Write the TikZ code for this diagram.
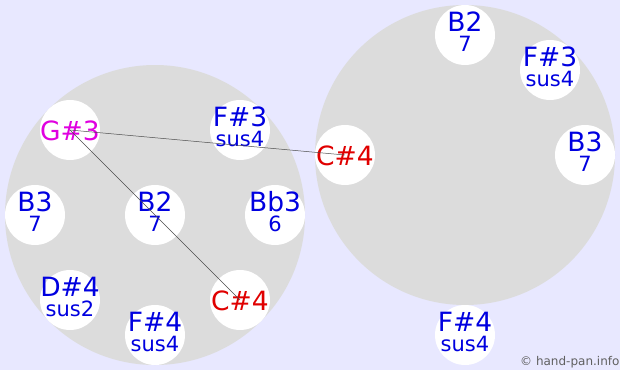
\documentclass[tikz,border=0pt]{standalone}
\usepackage{fontspec}
\setmainfont{DejaVu Sans}
\definecolor{bgc}{HTML}{E8E8FF}
\definecolor{panc}{HTML}{DCDCDC}
\definecolor{noteblue}{HTML}{0000E0}
\definecolor{notered}{HTML}{E00000}
\definecolor{notemag}{HTML}{E000E0}
\definecolor{copyc}{HTML}{606060}
\tikzset{
  pan/.style={fill=panc},
  field/.style={circle, fill=white, minimum size=60pt, inner sep=0pt},
  mainlbl/.style={anchor=base, inner sep=0pt, font=\fontsize{26.5}{26.5}\selectfont},
  sublbl/.style={anchor=base, inner sep=0pt, font=\fontsize{21}{21}\selectfont, text=noteblue},
  conn/.style={draw=black!70, line width=0.5pt},
}
\newcommand{\twonote}[5]{%
  \node[field] (#1) at (#2,#3) {};
  \node[mainlbl, text=noteblue] (#1m) at ([yshift=3.3pt]#1.center) {#4};
  \node[sublbl] (#1s) at ([yshift=-16pt]#1.center) {#5};
}
\newcommand{\onenote}[5]{%
  \node[field] (#1) at (#2,#3) {};
  \node[mainlbl, text=#5] (#1m) at ([yshift=-10pt]#1.center) {#4};
}
\begin{document}
\begin{tikzpicture}[x=1pt,y=-1pt]
\useasboundingbox (0,0) rectangle (620,370);
\fill[bgc] (0,0) rectangle (620,370);
\fill[pan] (155,215) circle (150);
\fill[pan] (465,155) circle (150);
% left pan
\onenote{lg3}{70}{130}{G\#3}{notemag}
\twonote{lf3}{240}{130}{F\#3}{sus4}
\twonote{lb3}{35}{215}{B3}{7}
\twonote{lb2}{155}{215}{B2}{7}
\twonote{lbb3}{275}{215}{Bb3}{6}
\twonote{ld4}{70}{300}{D\#4}{sus2}
\twonote{lf4}{155}{335}{F\#4}{sus4}
\onenote{lc4}{240}{300}{C\#4}{notered}
% right pan
\twonote{rb2}{465}{35}{B2}{7}
\twonote{rf3}{550}{70}{F\#3}{sus4}
\twonote{rb3}{585}{155}{B3}{7}
\onenote{rc4}{345}{155}{C\#4}{notered}
\twonote{rf4}{465}{335}{F\#4}{sus4}
% connectors
\draw[conn] (lg3.center) -- (rc4.center);
\draw[conn] (lg3.center) -- (lc4.center);
% copyright
\node[anchor=base west, inner sep=0pt, text=copyc, font=\fontsize{12}{12}\selectfont] (copy) at (520,365) {© hand-pan.info};
\end{tikzpicture}
\end{document}
